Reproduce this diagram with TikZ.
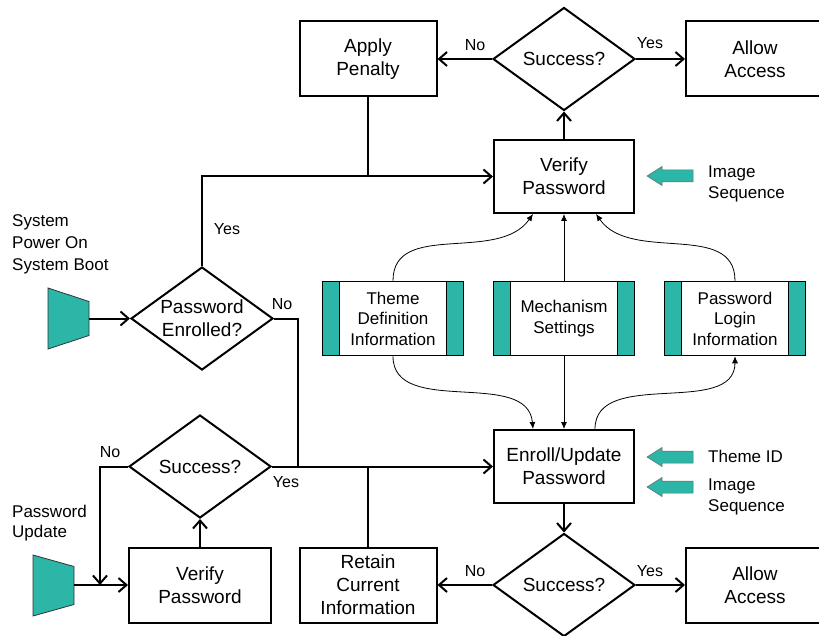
\documentclass[tikz,border=0pt]{standalone}
\usepackage{fontspec}
\setmainfont{Liberation Sans}
\usetikzlibrary{shapes.geometric,arrows.meta}

\definecolor{tealfill}{RGB}{44,182,168}

\tikzset{
  proc/.style={draw, line width=2pt, minimum width=137pt, minimum height=75pt,
    inner sep=0pt, align=center, font=\fontsize{19}{23}\selectfont},
  decision/.style={draw, diamond, line width=2pt, aspect=1.38, minimum width=142pt,
    minimum height=103pt, inner sep=0pt, align=center, font=\fontsize{19}{23}\selectfont},
  datastore/.style={draw, line width=1.5pt, minimum width=141pt, minimum height=74pt,
    inner sep=0pt, align=center, font=\fontsize{17}{20.5}\selectfont,
    path picture={
      \fill[tealfill] (path picture bounding box.south west) rectangle ([xshift=17pt]path picture bounding box.north west);
      \fill[tealfill] (path picture bounding box.south east) rectangle ([xshift=-17pt]path picture bounding box.north east);
      \draw[line width=1.5pt] ([xshift=17pt]path picture bounding box.south west) -- ([xshift=17pt]path picture bounding box.north west);
      \draw[line width=1.5pt] ([xshift=-17pt]path picture bounding box.south east) -- ([xshift=-17pt]path picture bounding box.north east);
    }},
  feed/.pic={
    \draw[draw=black!60, line width=0.5pt, fill=tealfill]
      (-23,0) -- (-8,-9.5) -- (-8,-6) -- (23,-6) -- (23,6) -- (-8,6) -- (-8,9.5) -- cycle;
  },
  source/.style={draw=black!80, line width=0.8pt, fill=tealfill},
  flow/.style={line width=2pt, -{Straight Barb[length=8pt,width=14pt]}},
  link/.style={line width=2pt},
  dataflow/.style={line width=0.8pt, -{Latex[length=7pt,width=6pt]}},
  tag/.style={inner sep=0pt, font=\fontsize{16}{19}\selectfont},
  note/.style={anchor=west, inner sep=0pt, align=left, font=\fontsize{17}{21}\selectfont},
}

\begin{document}
\begin{tikzpicture}[x=1pt,y=-1pt]

    \useasboundingbox (0,0) rectangle (819,636);

    % --- Top row: verification outcome ---
    \node[proc] (penalty) at (368,59) {Apply\\Penalty};
    \node[decision] (vok) at (564,59) {Success?};
    \node[proc, minimum width=138pt] (allowtop) at (755,59) {Allow\\Access};

    \node[proc, minimum width=140pt, minimum height=73pt] (verify) at (564,176.5) {Verify\\Password};
    \pic at (670,176) {feed};
    \node[note] (seqtoptxt) at (708,184) {Image\\Sequence};

    % --- Middle row: start and stored data ---
    \node[note, font=\fontsize{17}{22}\selectfont] (boottxt) at (12,244) {System\\Power On\\System Boot};
    \draw[source] (48,288) -- (89,301.5) -- (89,335.5) -- (48,349) -- cycle;
    \coordinate (bootout) at (89,318.5);

    \node[decision] (enrolled) at (202,318.5) {Password\\Enrolled?};

    \node[datastore] (theme) at (393,318.5) {Theme\\Definition\\Information};
    \node[datastore] (mech) at (564,318.5) {Mechanism\\Settings};
    \node[datastore] (login) at (735,318.5) {Password\\Login\\Information};

    % --- Lower rows: update path ---
    \node[decision] (uok) at (200,466.5) {Success?};
    \node[proc, minimum width=140pt, minimum height=73pt] (enroll) at (564,466.5) {Enroll/Update\\Password};
    \pic at (670,457) {feed};
    \node[note] (themeidtxt) at (708,456) {Theme ID};
    \pic at (670,487) {feed};
    \node[note] (seqbottxt) at (708,497) {Image\\Sequence};

    \node[note, font=\fontsize{17}{20}\selectfont] (updtxt) at (12,523.5) {Password\\Update};
    \draw[source] (33,555) -- (74,566.5) -- (74,604.5) -- (33,616) -- cycle;
    \coordinate (updout) at (74,585);

    \node[proc, minimum width=142pt] (verifyupd) at (200,585) {Verify\\Password};
    \node[proc] (retain) at (368,585) {Retain\\Current\\Information};
    \node[decision] (eok) at (564,585) {Success?};
    \node[proc, minimum width=138pt] (allowbot) at (755,585) {Allow\\Access};

    % --- Main flow ---
    \draw[flow] (bootout) -- (enrolled.west);
    \draw[flow] (enrolled.north) |- (verify.west);
    \draw[link] (penalty.south) -- (penalty.south |- verify.west);
    \draw[flow] (verify.north) -- (vok.south);
    \draw[flow] (vok.west) -- (penalty.east);
    \draw[flow] (vok.east) -- (allowtop.west);

    \coordinate (enrolledno) at (298,318.5);
    \draw[link] (enrolled.east) -- (enrolledno) -- (enrolledno |- uok.east);
    \draw[flow] (uok.east) -- (enroll.west);
    \draw[link] (retain.north) -- (retain.north |- enroll.west);

    \coordinate (uokno) at (100,466.5);
    \draw[flow] (uok.west) -- (uokno) -- (uokno |- verifyupd.west);
    \draw[flow] (updout) -- (verifyupd.west);
    \draw[flow] (verifyupd.north) -- (uok.south);

    \draw[flow] (enroll.south) -- (eok.north);
    \draw[flow] (eok.west) -- (retain.east);
    \draw[flow] (eok.east) -- (allowbot.west);

    % --- Data flows ---
    \draw[dataflow] (theme.north) to[out=90,in=-125] ([xshift=-31pt]verify.south);
    \draw[dataflow] (mech.north) -- (verify.south);
    \draw[dataflow] (login.north) to[out=90,in=-55] ([xshift=32pt]verify.south);
    \draw[dataflow] (theme.south) to[out=-90,in=95] ([xshift=-31pt]enroll.north);
    \draw[dataflow] (mech.south) -- (enroll.north);
    \draw[dataflow] ([xshift=31pt]enroll.north) to[out=90,in=-90] (login.south);

    % --- Branch labels ---
    \node[tag] (yes1) at (227,229) {Yes};
    \node[tag] (no1) at (282,304) {No};
    \node[tag] (no2) at (110,452) {No};
    \node[tag] (yes2) at (286,482) {Yes};
    \node[tag] (no3) at (475,45) {No};
    \node[tag] (yes3) at (650,43) {Yes};
    \node[tag] (no4) at (475,571) {No};
    \node[tag] (yes4) at (650,571) {Yes};

\end{tikzpicture}
\end{document}
